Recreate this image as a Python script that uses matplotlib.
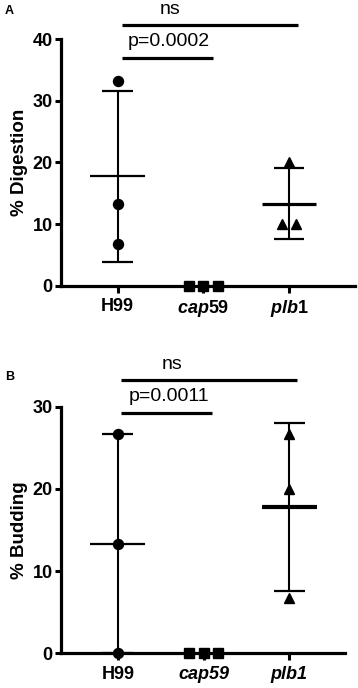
import numpy as np
import matplotlib
matplotlib.use("Agg")
import matplotlib.pyplot as plt

plt.rcParams['font.family'] = ['Liberation Sans', 'DejaVu Sans']
plt.rcParams['mathtext.fontset'] = 'custom'
plt.rcParams['mathtext.it'] = 'Liberation Sans:italic:bold'
plt.rcParams['mathtext.rm'] = 'Liberation Sans:bold'
plt.rcParams['mathtext.bf'] = 'Liberation Sans:bold'

# Data
groups = ["H99", "cap59", "plb1"]
labels_a = ["H99", r"$cap$59", r"$plb$1"]
labels_b = ["H99", "cap59", "plb1"]

digestion_h99 = [33.3, 13.3, 6.7]
digestion_cap59 = [0.0, 0.0, 0.0]
digestion_plb1 = [20.0, 10.0, 10.0]

budding_h99 = [26.7, 13.3, 0.0]
budding_cap59 = [0.0, 0.0, 0.0]
budding_plb1 = [26.7, 20.0, 6.7]

p_digestion = "p=0.0002"
p_budding = "p=0.0011"

DPI = 100
fig = plt.figure(figsize=(3.58, 6.88), dpi=DPI)

ax_a = fig.add_axes([0.1704, 0.5848, 0.8212, 0.3581])
ax_b = fig.add_axes([0.1704, 0.0504, 0.7933, 0.3585])


def draw_panel(ax, series, offsets, markers, xlabels, ylabel, ymax, yticks,
               xright, brackets, mean_lws):
    for i, (vals, offs, mk) in enumerate(zip(series, offsets, markers)):
        vals = np.array(vals)
        m = vals.mean()
        sd = vals.std(ddof=1)
        # mean +/- SD
        if sd > 0:
            ax.plot([i, i], [m - sd, m + sd], color='black', lw=1.5,
                    solid_capstyle='butt', zorder=2, clip_on=False)
            for y in (m - sd, m + sd):
                ax.plot([i - 0.18, i + 0.18], [y, y], color='black', lw=1.6,
                        solid_capstyle='butt', zorder=2, clip_on=False)
            ax.plot([i - 0.32, i + 0.32], [m, m], color='black', lw=mean_lws[i],
                    solid_capstyle='butt', zorder=2, clip_on=False)
        ms = {'o': 7.2, 's': 6.5, '^': 6.8}[mk]
        ax.plot(i + np.array(offs), vals, linestyle='none', marker=mk,
                color='black', markersize=ms, zorder=4, clip_on=False)

    ax.set_xlim(-0.662, xright)
    ax.set_ylim(0, ymax)
    ax.set_yticks(yticks)
    ax.set_xticks(range(len(xlabels)))
    ax.set_xticklabels(xlabels)
    for s in ('top', 'right'):
        ax.spines[s].set_visible(False)
    for s in ('left', 'bottom'):
        ax.spines[s].set_linewidth(2.3)
    ax.tick_params(axis='y', length=4, width=2.2, pad=2, labelsize=13)
    ax.tick_params(axis='x', length=5, width=2.2, pad=4, labelsize=13)
    for t in ax.get_xticklabels() + ax.get_yticklabels():
        t.set_fontweight('bold')
    ax.set_ylabel(ylabel, fontsize=13.5, fontweight='bold', labelpad=3)

    for y, x0, x1 in brackets:
        ax.plot([x0, x1], [y, y], color='black', lw=2.3,
                solid_capstyle='butt', clip_on=False)
    return ax


draw_panel(ax_a, [digestion_h99, digestion_cap59, digestion_plb1],
           [[0, 0, 0], [-0.17, 0, 0.17], [0, -0.08, 0.08]],
           ['o', 's', '^'], labels_a, "% Digestion", 40, [0, 10, 20, 30, 40],
           2.77, [(42.3, 0.05, 2.1), (36.9, 0.05, 1.11)], [1.6, 1.6, 2.3])
draw_panel(ax_b, [budding_h99, budding_cap59, budding_plb1],
           [[0, 0, 0], [-0.17, 0, 0.17], [0, 0, 0]],
           ['o', 's', '^'], labels_b, "% Budding", 30, [0, 10, 20, 30],
           2.65, [(33.2, 0.035, 2.09), (29.2, 0.035, 1.10)], [1.6, 1.6, 3.0])
for t in ax_b.get_xticklabels()[1:]:
    t.set_fontstyle('italic')

# annotation text
H = 688.0
W = 358.0
fig.text(170 / W, 1 - 9.5 / H, "ns", ha='center', va='center', fontsize=14)
fig.text(169 / W, 1 - 41.5 / H, p_digestion, ha='center', va='center', fontsize=14)
fig.text(172 / W, 1 - 364 / H, "ns", ha='center', va='center', fontsize=14)
fig.text(169 / W, 1 - 396.5 / H, p_budding, ha='center', va='center', fontsize=14)

fig.text(9.5 / W, 1 - 11.5 / H, "A", ha='center', va='center', fontsize=9,
         fontweight='bold')
fig.text(9.5 / W, 1 - 377 / H, "B", ha='center', va='center', fontsize=9,
         fontweight='bold')

fig.savefig("out.png", dpi=DPI)
